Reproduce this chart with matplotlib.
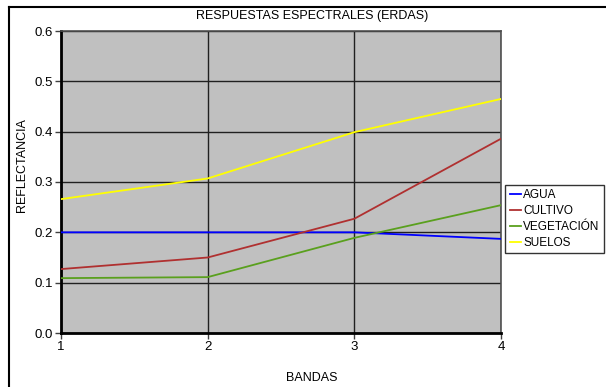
import matplotlib
matplotlib.use('Agg')
import matplotlib.pyplot as plt
from matplotlib.lines import Line2D

plt.rcParams['font.family'] = ['Liberation Sans', 'DejaVu Sans']

bandas = [1, 2, 3, 4]
agua = [0.200, 0.200, 0.200, 0.187]
cultivo = [0.127, 0.150, 0.227, 0.386]
vegetacion = [0.109, 0.111, 0.189, 0.254]
suelos = [0.266, 0.307, 0.399, 0.465]
yticks = [0.0, 0.1, 0.2, 0.3, 0.4, 0.5, 0.6]

fig = plt.figure(figsize=(6.06, 3.87), dpi=100)
ax = fig.add_axes([61/606, 54/387, 440/606, 302/387])
ax.set_facecolor('#c0c0c0')

ax.plot(bandas, agua, color='#0000ff', lw=1.3, label='AGUA', zorder=3)
ax.plot(bandas, cultivo, color='#b03030', lw=1.3, label='CULTIVO', zorder=3)
ax.plot(bandas, vegetacion, color='#5aa01e', lw=1.3, label='VEGETACIÓN', zorder=3)
ax.plot(bandas, suelos, color='#ffff00', lw=1.3, label='SUELOS', zorder=3)

ax.set_xlim(1, 4)
ax.set_ylim(0, 0.6)
ax.set_xticks(bandas)
ax.set_yticks(yticks)
ax.set_yticklabels(['%.1f' % v for v in yticks])
ax.tick_params(labelsize=9.5, length=4, width=1, pad=2, color='#404040')
ax.grid(True, color='#202020', lw=1, zorder=1)
ax.set_axisbelow(True)

for s in ['top', 'right']:
    ax.spines[s].set_color('#505050')
    ax.spines[s].set_linewidth(1.2)
for s in ['left', 'bottom']:
    ax.spines[s].set_color('black')
    ax.spines[s].set_linewidth(2)

fig.text(312/606, 1 - 16/387, 'RESPUESTAS ESPECTRALES (ERDAS)', fontsize=9,
         ha='center', va='center')
fig.text(312/606, 1 - 378/387, 'BANDAS', fontsize=9, ha='center', va='center')
fig.text(22/606, 1 - 165/387, 'REFLECTANCIA', fontsize=9, rotation=90,
         ha='center', va='center')

leg = ax.legend(loc='center left', bbox_to_anchor=(1.01, 0.377), fontsize=8.5,
                frameon=True, fancybox=False, edgecolor='black',
                handlelength=1.0, handletextpad=0.15, labelspacing=0.35,
                borderpad=0.35, borderaxespad=0)
leg.get_frame().set_linewidth(1)

# marco exterior
fig.add_artist(Line2D([9/606, 9/606], [0, 1 - 7/387], color='black', lw=1.5))
fig.add_artist(Line2D([9/606, 1], [1 - 7/387, 1 - 7/387], color='black', lw=1.5))

fig.savefig('out.png', dpi=100)
